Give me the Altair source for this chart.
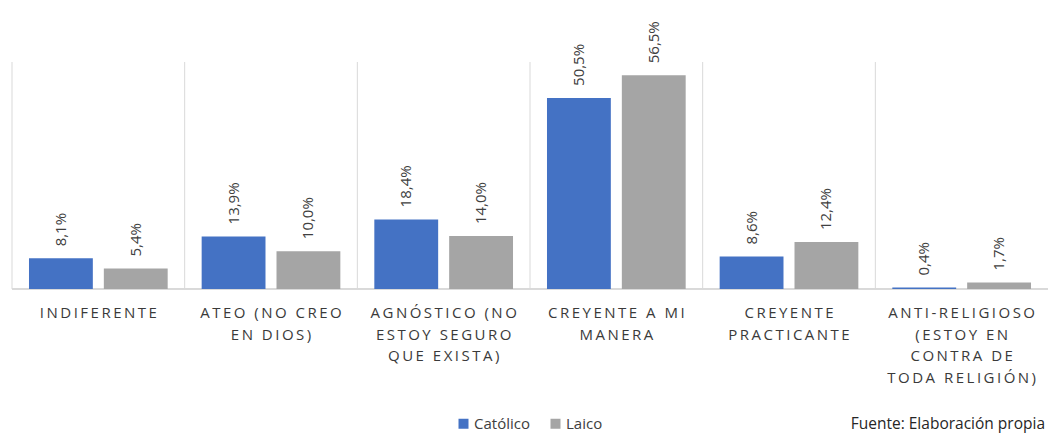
import altair as alt
import pandas as pd

categories = [
    "INDIFERENTE",
    "ATEO (NO CREO\nEN DIOS)",
    "AGNÓSTICO (NO\nESTOY SEGURO\nQUE EXISTA)",
    "CREYENTE A MI\nMANERA",
    "CREYENTE\nPRACTICANTE",
    "ANTI-RELIGIOSO\n(ESTOY EN\nCONTRA DE\nTODA RELIGIÓN)",
]
series = ["Católico", "Laico"]
catolico = [8.1, 13.9, 18.4, 50.5, 8.6, 0.4]
laico = [5.4, 10.0, 14.0, 56.5, 12.4, 1.7]
colors = ["#4472C4", "#A5A5A5"]
source_note = "Fuente: Elaboración propia"

rows = []
for c, a, b in zip(categories, catolico, laico):
    for s, v in zip(series, [a, b]):
        rows.append({"cat": c, "serie": s, "value": v,
                     "label": f"{v:.1f}".replace(".", ",") + "%"})
df = pd.DataFrame(rows)


def spaced(text):
    # letter-spaced display (thin spaces between characters)
    return "\n".join("\u2009".join(line) for line in text.split("\n"))


df_cats = pd.DataFrame({"cat": categories, "shown": [spaced(c) for c in categories]})

W, H = 1036, 227
FONT = "Open Sans"

xscale = alt.Scale(domain=categories, paddingInner=0, paddingOuter=0)
x_enc = alt.X("cat:N", sort=categories, scale=xscale, axis=None)
xo_enc = alt.XOffset("serie:N", sort=series,
                     scale=alt.Scale(domain=series, paddingInner=0.147, paddingOuter=0.227))
y_enc = alt.Y("value:Q", scale=alt.Scale(domain=[0, 60], nice=False), axis=None)

seps = alt.Chart(df_cats).mark_rule(color="#d9d9d9", strokeWidth=1).encode(
    x=alt.X("cat:N", sort=categories, scale=xscale, axis=None, bandPosition=0),
    y=alt.value(0), y2=alt.value(H),
)

baseline = alt.Chart(df_cats).mark_rule(color="#d9d9d9", strokeWidth=1).encode(
    x=alt.value(0), x2=alt.value(W), y=alt.value(H),
)

bars = alt.Chart(df).mark_bar().encode(
    x=x_enc, xOffset=xo_enc, y=y_enc,
    color=alt.Color("serie:N", sort=series,
                    scale=alt.Scale(domain=series, range=colors),
                    legend=alt.Legend(orient="none", legendX=444, legendY=354,
                                      direction="horizontal", title=None,
                                      symbolType="square", symbolSize=100,
                                      symbolStrokeWidth=0, padding=0,
                                      labelFontSize=15, labelFont=FONT,
                                      labelColor="#404040", columnPadding=18,
                                      labelOffset=3)),
)

vals = alt.Chart(df).mark_text(angle=270, align="left", baseline="middle", dx=12,
                               fontSize=15, font=FONT, color="#404040").encode(
    x=x_enc, xOffset=xo_enc, y=y_enc, text="label:N",
)

cat_labels = alt.Chart(df_cats).mark_text(align="center", baseline="top", lineBreak="\n",
                                          lineHeight=21.5, fontSize=15, font=FONT,
                                          color="#3a3a3a").encode(
    x=x_enc, y=alt.value(244), text="shown:N",
)

note = alt.Chart(df_cats.head(1)).mark_text(align="right", baseline="middle", fontSize=15.5,
                                           font=FONT, color="#262626").encode(
    x=alt.value(1033), y=alt.value(362), text=alt.datum(source_note),
)

chart = alt.layer(seps, baseline, bars, vals, cat_labels, note).properties(
    width=W, height=H,
    autosize=alt.AutoSizeParams(type="none"),
    padding={"left": 12, "top": 62, "right": 0, "bottom": 144},
).configure_view(strokeWidth=0)

chart.save("out.html", embed_options={"renderer": "svg", "actions": False})
